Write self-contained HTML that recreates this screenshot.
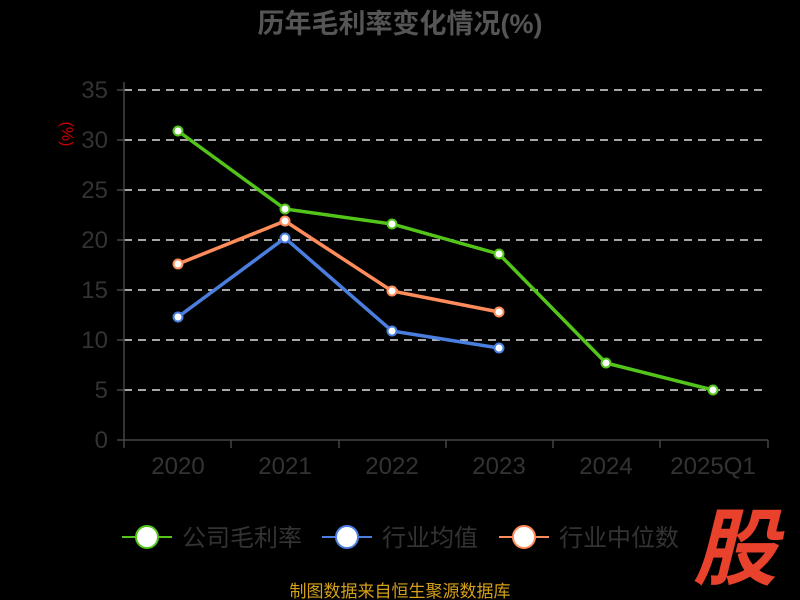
<!DOCTYPE html>
<html><head><meta charset="utf-8"><style>
html,body{margin:0;padding:0;background:#000;width:800px;height:600px;overflow:hidden}
svg{display:block}
text{font-family:"Liberation Sans","Noto Sans CJK SC",sans-serif}
</style></head><body>
<svg width="800" height="600" viewBox="0 0 800 600">
<text x="400" y="33" text-anchor="middle" font-size="27" font-weight="bold" fill="#555">历年毛利率变化情况(%)</text>
<text x="70" y="126" font-size="16" fill="#c00" transform="rotate(90 62 126)" text-anchor="middle">(%)</text>
<g stroke="#ddd" stroke-width="1.5" stroke-dasharray="8,6">
<line x1="124" x2="768" y1="90" y2="90"/><line x1="124" x2="768" y1="140" y2="140"/>
<line x1="124" x2="768" y1="190" y2="190"/><line x1="124" x2="768" y1="240" y2="240"/>
<line x1="124" x2="768" y1="290" y2="290"/><line x1="124" x2="768" y1="340" y2="340"/>
<line x1="124" x2="768" y1="390" y2="390"/>
</g>
<g stroke="#444" stroke-width="1.5">
<line x1="124" y1="82" x2="124" y2="441"/><line x1="124" y1="440" x2="768" y2="440"/>
<line x1="117" x2="124" y1="90" y2="90"/><line x1="117" x2="124" y1="140" y2="140"/><line x1="117" x2="124" y1="190" y2="190"/><line x1="117" x2="124" y1="240" y2="240"/><line x1="117" x2="124" y1="290" y2="290"/><line x1="117" x2="124" y1="340" y2="340"/><line x1="117" x2="124" y1="390" y2="390"/><line x1="117" x2="124" y1="440" y2="440"/>
<line x1="124" x2="124" y1="440" y2="448"/><line x1="231" x2="231" y1="440" y2="448"/><line x1="339" x2="339" y1="440" y2="448"/><line x1="446" x2="446" y1="440" y2="448"/><line x1="553" x2="553" y1="440" y2="448"/><line x1="660" x2="660" y1="440" y2="448"/><line x1="768" x2="768" y1="440" y2="448"/>
</g>
<g font-size="24" fill="#333" text-anchor="end">
<text x="108" y="98">35</text><text x="108" y="148">30</text><text x="108" y="198">25</text><text x="108" y="248">20</text><text x="108" y="298">15</text><text x="108" y="348">10</text><text x="108" y="398">5</text><text x="108" y="448">0</text>
</g>
<g font-size="24" fill="#333" text-anchor="middle">
<text x="178" y="474">2020</text><text x="285" y="474">2021</text><text x="392" y="474">2022</text><text x="499" y="474">2023</text><text x="606" y="474">2024</text><text x="713" y="474">2025Q1</text>
</g>
<polyline fill="none" stroke="#52c41a" stroke-width="3.5" points="178,131 285,209 392,224 499,254 606,363 713,390"/>
<polyline fill="none" stroke="#4a7fe0" stroke-width="3.5" points="178,317 285,238 392,331 499,348"/>
<polyline fill="none" stroke="#ff8c5a" stroke-width="3.5" points="178,264 285,221 392,291 499,312"/>
<g fill="#fff" stroke-width="2">
<g stroke="#52c41a"><circle cx="178" cy="131" r="4.5"/><circle cx="285" cy="209" r="4.5"/><circle cx="392" cy="224" r="4.5"/><circle cx="499" cy="254" r="4.5"/><circle cx="606" cy="363" r="4.5"/><circle cx="713" cy="390" r="4.5"/></g>
<g stroke="#4a7fe0"><circle cx="178" cy="317" r="4.5"/><circle cx="285" cy="238" r="4.5"/><circle cx="392" cy="331" r="4.5"/><circle cx="499" cy="348" r="4.5"/></g>
<g stroke="#ff8c5a"><circle cx="178" cy="264" r="4.5"/><circle cx="285" cy="221" r="4.5"/><circle cx="392" cy="291" r="4.5"/><circle cx="499" cy="312" r="4.5"/></g>
</g>
<g stroke-width="2">
<line x1="122" x2="172" y1="537" y2="537" stroke="#52c41a"/><ellipse cx="147" cy="537" rx="11" ry="11" fill="#fff" stroke="#52c41a"/>
<line x1="322" x2="372" y1="537" y2="537" stroke="#4a7fe0"/><ellipse cx="347" cy="537" rx="11" ry="11" fill="#fff" stroke="#4a7fe0"/>
<line x1="499" x2="549" y1="537" y2="537" stroke="#ff8c5a"/><ellipse cx="524" cy="537" rx="11" ry="11" fill="#fff" stroke="#ff8c5a"/>
</g>
<g font-size="24" fill="#333">
<text x="182" y="546">公司毛利率</text><text x="382" y="546">行业均值</text><text x="559" y="546">行业中位数</text>
</g>
<text x="735" y="578" text-anchor="middle" font-size="84" font-weight="bold" font-style="italic" fill="#e8412c">股</text>
<text x="400" y="597" text-anchor="middle" font-size="17" fill="#d4a017">制图数据来自恒生聚源数据库</text>
</svg>
</body></html>
